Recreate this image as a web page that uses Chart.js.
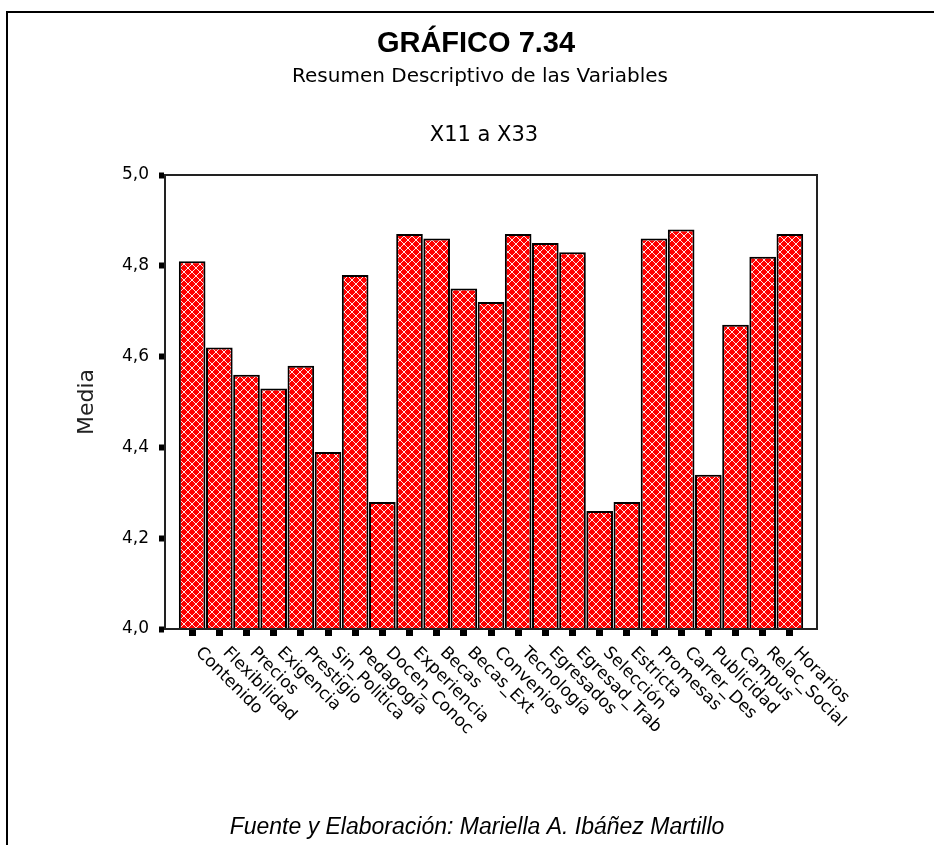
<!DOCTYPE html>
<html>
<head>
<meta charset="utf-8">
<script src="https://cdn.jsdelivr.net/npm/chart.js@4"></script>
<style>
  html, body { margin: 0; padding: 0; background: #fff; }
  canvas { display: block; }
</style>
</head>
<body>
<canvas id="grafico" width="934" height="845"></canvas>
<script>
// medias de las variables X11 a X33
const categorias = ['Contenido', 'Flexibilidad', 'Precios', 'Exigencia', 'Prestigio', 'Sin_Politica',
  'Pedagogía', 'Docen_Conoc', 'Experiencia', 'Becas', 'Becas_Ext', 'Convenios', 'Tecnología',
  'Egresados', 'Egresad_Trab', 'Selección', 'Estricta', 'Promesas', 'Carrer_Des', 'Publicidad',
  'Campus', 'Relac_Social', 'Horarios'];
const medias = [4.81, 4.62, 4.56, 4.53, 4.58, 4.39, 4.78, 4.28, 4.87, 4.86, 4.75, 4.72, 4.87,
  4.85, 4.83, 4.26, 4.28, 4.86, 4.88, 4.34, 4.67, 4.82, 4.87];
const ticksY = ['4,0', '4,2', '4,4', '4,6', '4,8', '5,0'];
const titulo = 'GRÁFICO 7.34';
const subtitulos = ['Resumen Descriptivo de las Variables', 'X11 a X33'];
const fuente = 'Fuente y Elaboración: Mariella A. Ibáñez Martillo';

const DEJAVU = "'DejaVu Sans', sans-serif";

// trama roja con rejilla blanca en diagonal
function tramaRoja() {
  const c = document.createElement('canvas');
  c.width = 8; c.height = 8;
  const g = c.getContext('2d');
  g.fillStyle = '#ff0000';
  g.fillRect(0, 0, 8, 8);
  g.fillStyle = 'rgba(255,255,255,0.9)';
  for (let i = 0; i < 8; i++) {
    g.fillRect(i, i, 1, 1);
    g.fillRect(7 - i, i, 1, 1);
  }
  return g.createPattern(c, 'repeat');
}

const textos = {
  id: 'textos',
  beforeDraw(chart) {
    const ctx = chart.ctx;
    ctx.save();
    ctx.fillStyle = '#fff';
    ctx.fillRect(0, 0, chart.width, chart.height);
    ctx.strokeStyle = '#000';
    ctx.lineWidth = 2;
    ctx.beginPath();
    ctx.moveTo(7, chart.height);
    ctx.lineTo(7, 12);
    ctx.lineTo(chart.width, 12);
    ctx.stroke();
    ctx.restore();
  },
  afterDraw(chart) {
    const ctx = chart.ctx;
    const a = chart.chartArea;
    const x = chart.scales.x;
    ctx.save();
    ctx.strokeStyle = '#222';
    ctx.lineWidth = 2;
    ctx.strokeRect(a.left, a.top, a.right - a.left, a.bottom - a.top);

    ctx.fillStyle = '#000';
    ctx.textAlign = 'center';
    ctx.textBaseline = 'middle';
    ctx.font = "bold 29px 'Liberation Sans', Arial, sans-serif";
    ctx.fillText(titulo, 476, 44);
    ctx.font = '20px ' + DEJAVU;
    ctx.fillText(subtitulos[0], 480, 77);
    ctx.font = '21px ' + DEJAVU;
    ctx.fillText(subtitulos[1], 484, 136);
    ctx.font = "italic 23px 'Liberation Sans', Arial, sans-serif";
    ctx.fillText(fuente, 477, 828);

    // etiquetas del eje X giradas 45 grados
    ctx.font = '17px ' + DEJAVU;
    ctx.textAlign = 'left';
    categorias.forEach((c, i) => {
      ctx.save();
      ctx.translate(x.getPixelForValue(i) + 6, a.bottom + 21);
      ctx.rotate(Math.PI / 4);
      ctx.fillText(c, 0, 0);
      ctx.restore();
    });
    ctx.restore();
  }
};

new Chart(document.getElementById('grafico'), {
  type: 'bar',
  data: {
    datasets: [{
      label: 'Media',
      data: medias.map((v, i) => ({ x: i, y: v })),
      backgroundColor: tramaRoja(),
      borderColor: '#000',
      borderWidth: 2,
      base: 4,
      barPercentage: 0.98,
      categoryPercentage: 1
    }]
  },
  options: {
    responsive: false,
    animation: false,
    layout: { padding: { top: 175, right: 117, left: 0, bottom: 0 } },
    plugins: {
      legend: { display: false },
      tooltip: { enabled: false }
    },
    scales: {
      x: {
        type: 'linear',
        min: -1,
        max: categorias.length,
        offset: false,
        afterBuildTicks: s => { s.ticks = s.ticks.filter(t => t.value >= 0 && t.value < categorias.length); },
        afterFit: s => { s.height = 216; },
        ticks: { stepSize: 1, display: false },
        grid: { offset: false, drawOnChartArea: false, tickLength: 7, tickWidth: 7, tickColor: '#000' },
        border: { display: true, color: '#000', width: 2 }
      },
      y: {
        min: 4,
        max: 5,
        afterFit: s => { s.width = 165; },
        ticks: {
          stepSize: 0.2,
          padding: 10,
          color: '#000',
          font: { family: DEJAVU, size: 17 },
          callback: (v, i) => ticksY[i]
        },
        grid: { drawOnChartArea: false, tickLength: 6, tickWidth: 6, tickColor: '#000' },
        border: { display: true, color: '#000', width: 2 },
        title: {
          display: true,
          text: 'Media',
          color: '#222',
          font: { family: DEJAVU, size: 22 },
          padding: { top: 74, bottom: 0 }
        }
      }
    }
  },
  plugins: [textos]
});
</script>
</body>
</html>
